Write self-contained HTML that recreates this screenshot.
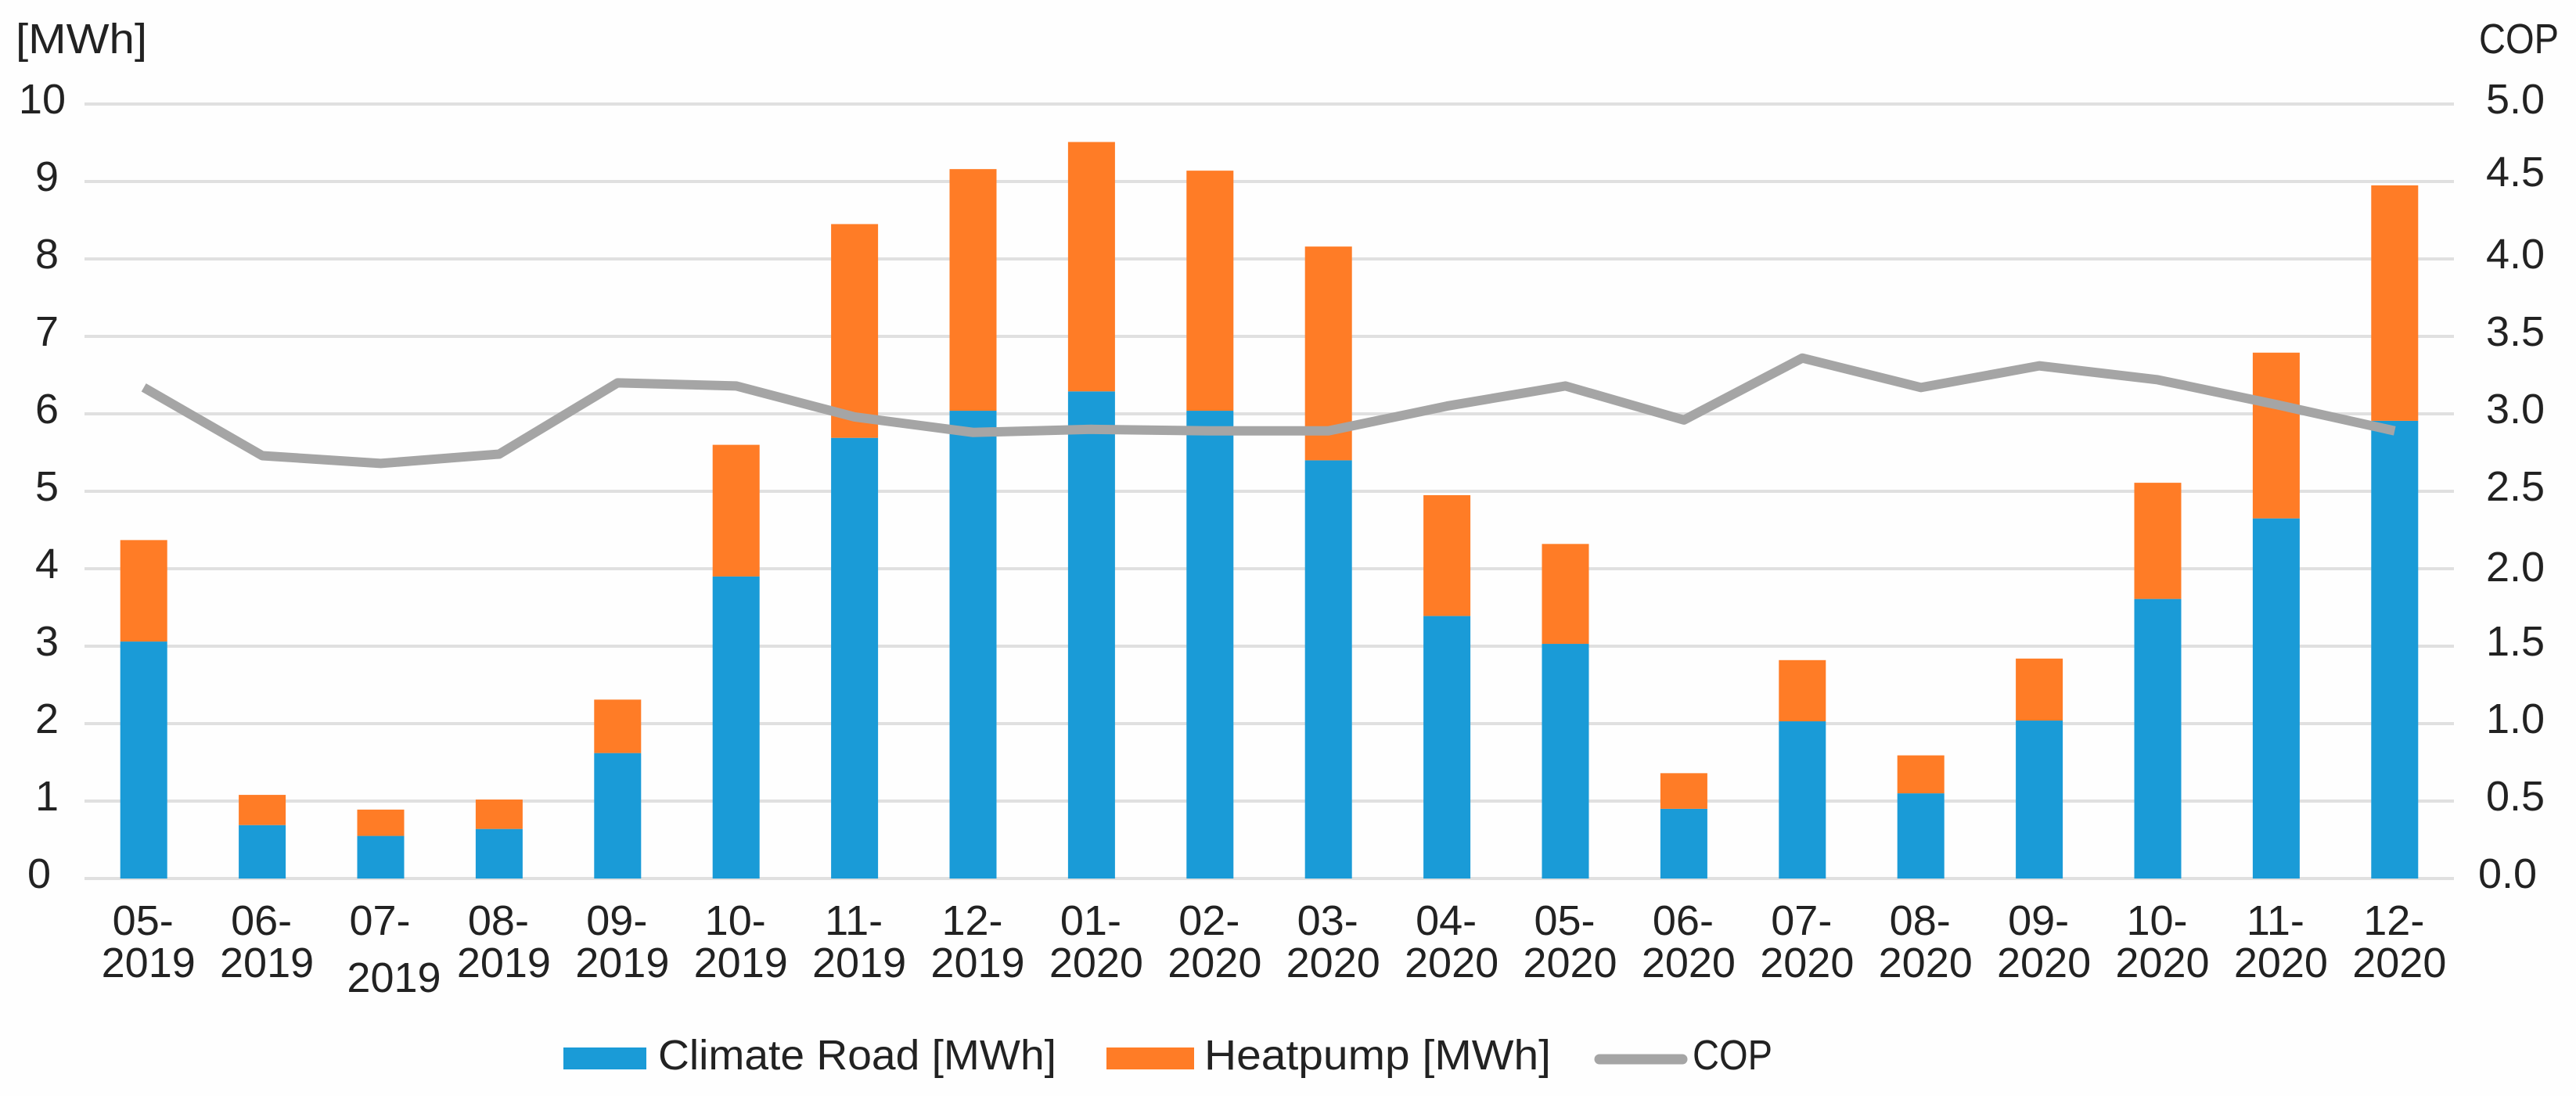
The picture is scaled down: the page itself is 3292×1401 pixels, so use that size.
<!DOCTYPE html>
<html lang="en">
<head>
<meta charset="utf-8">
<title>Climate Road and Heatpump energy with COP</title>
<style>
  html, body { margin: 0; padding: 0; background: #fefefe; }
  svg { display: block; }
  text { font-family: "Liberation Sans", sans-serif; font-size: 54px; fill: #222222; }
</style>
</head>
<body>
<svg id="chart" xmlns="http://www.w3.org/2000/svg" width="3292" height="1401" viewBox="0 0 3292 1401">
  <rect x="0" y="0" width="3292" height="1401" fill="#fefefe"/>
  <g id="grid"></g>
  <g id="bars"></g>
  <g id="line"></g>
  <g id="ticks"></g>
  <text x="20" y="68" textLength="168" lengthAdjust="spacingAndGlyphs">[MWh]</text>
  <text x="3168" y="68" textLength="102" lengthAdjust="spacingAndGlyphs">COP</text>
  <g>
    <g>
      <rect x="720" y="1339" width="106" height="28" fill="#1a9bd7"/>
      <text x="841" y="1367" textLength="509" lengthAdjust="spacingAndGlyphs">Climate Road [MWh]</text>
    </g>
    <g>
      <rect x="1414" y="1339" width="112" height="28" fill="#ff7c26"/>
      <text x="1539" y="1367" textLength="443" lengthAdjust="spacingAndGlyphs">Heatpump [MWh]</text>
    </g>
    <g>
      <line x1="2044" y1="1354" x2="2150" y2="1354" stroke="#a5a5a5" stroke-width="13" stroke-linecap="round"/>
      <text x="2163" y="1367" textLength="102" lengthAdjust="spacingAndGlyphs">COP</text>
    </g>
  </g>
</svg>
<script>
const months = ['05','06','07','08','09','10','11','12','01','02','03','04','05','06','07','08','09','10','11','12'];
const years = ['2019','2019','2019','2019','2019','2019','2019','2019','2020','2020','2020','2020','2020','2020','2020','2020','2020','2020','2020','2020'];
const climateRoad = [3.06,0.69,0.55,0.64,1.62,3.90,5.69,6.04,6.29,6.04,5.40,3.39,3.03,0.90,2.03,1.10,2.04,3.61,4.65,5.91];
const heatpump = [1.31,0.39,0.34,0.38,0.69,1.70,2.76,3.12,3.22,3.10,2.76,1.56,1.29,0.46,0.79,0.49,0.80,1.50,2.14,3.04];
const cop = [3.17,2.73,2.68,2.74,3.20,3.18,2.98,2.88,2.90,2.89,2.89,3.05,3.18,2.96,3.36,3.17,3.31,3.22,3.06,2.89];
const leftTicks = [0,1,2,3,4,5,6,7,8,9,10];
const rightTicks = ['0.0','0.5','1.0','1.5','2.0','2.5','3.0','3.5','4.0','4.5','5.0'];
const leftMax = 10;
const rightMax = 5;

const NS = 'http://www.w3.org/2000/svg';
const plotLeft = 108, plotRight = 3136, plotTop = 133, plotBottom = 1123, barWidth = 60;
const xBand = (plotRight - plotLeft) / months.length;
function xPos(i) { return plotLeft + xBand * (i + 0.5); }
function yLeft(v) { return plotBottom - (plotBottom - plotTop) * v / leftMax; }
function yRight(v) { return plotBottom - (plotBottom - plotTop) * v / rightMax; }
function make(tag, attrs, parent, content) {
  const node = document.createElementNS(NS, tag);
  for (const k in attrs) node.setAttribute(k, attrs[k]);
  if (content !== undefined) node.textContent = content;
  document.getElementById(parent).appendChild(node);
  return node;
}

leftTicks.forEach(function (t, i) {
  const y = yLeft(t);
  const g = make('rect', { x: plotLeft, y: y - 2, width: plotRight - plotLeft, height: 4, fill: '#e0e0e0' }, 'grid');
  
  
  const endX = t === 10 ? 84 : (t === 0 ? 65 : 75);
  const lab = make('text', { x: endX, y: y + 12, 'text-anchor': 'end' }, 'ticks', String(t));
  
  
  const startX = i === 0 ? 3167 : 3177;
  const rightNudge = i === 9 ? 6 : (i === 4 ? 16 : 12);
  const rlab = make('text', { x: startX, y: yRight(parseFloat(rightTicks[i])) + rightNudge }, 'ticks', rightTicks[i]);
  
  
});

months.forEach(function (m, i) {
  const cx = xPos(i);
  const blueTop = yLeft(climateRoad[i]);
  const total = climateRoad[i] + heatpump[i];
  const orangeTop = yLeft(total);
  const blue = make('rect', { x: cx - barWidth / 2, y: blueTop, width: barWidth, height: plotBottom - blueTop, fill: '#1a9bd7' }, 'bars');
  
  
  const orange = make('rect', { x: cx - barWidth / 2, y: orangeTop, width: barWidth, height: blueTop - orangeTop, fill: '#ff7c26' }, 'bars');
  
  

  const wrapped = i === 2;
  const top = make('text', { x: cx - 1, y: 1195, 'text-anchor': 'middle' }, 'ticks', m + '-');
  
  
  const bottom = make('text', { x: cx + (wrapped ? 17 : 6), y: wrapped ? 1268 : 1249, 'text-anchor': 'middle' }, 'ticks', years[i]);
  
  
});

const copPoints = cop.map(function (v, i) { return xPos(i) + ',' + yRight(v); }).join(' ');
const copLine = make('polyline', { points: copPoints, fill: 'none', stroke: '#a5a5a5', 'stroke-width': 12, 'stroke-linejoin': 'round', 'stroke-linecap': 'butt' }, 'line');


</script>
</body>
</html>
